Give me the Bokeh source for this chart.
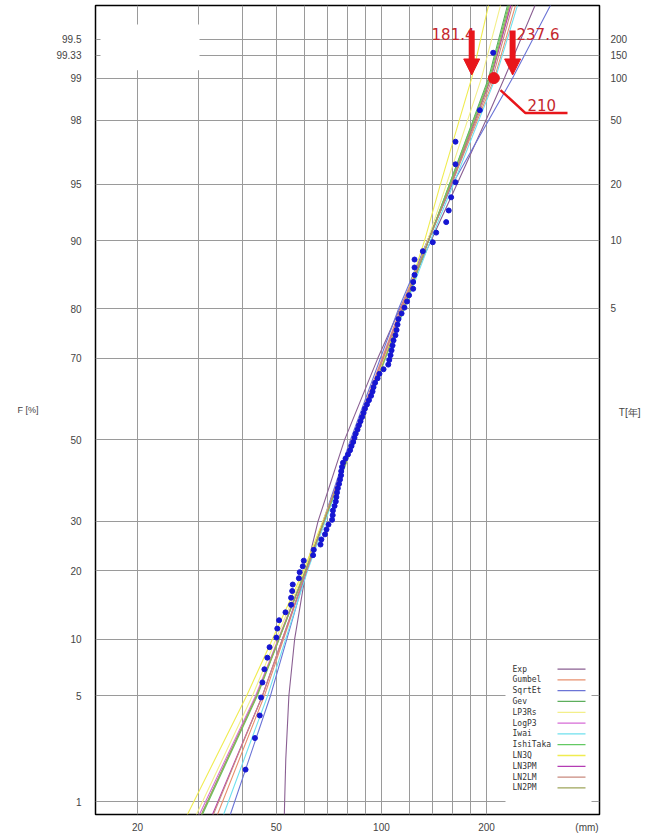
import math
from statistics import NormalDist
from bokeh.plotting import figure
from bokeh.models import (Range1d, FixedTicker, LinearAxis, Label, Arrow, NormalHead,
                          CustomJSTickFormatter)
from bokeh.embed import file_html
from bokeh.resources import INLINE
from bokeh.core.properties import value

# ---------------- data ----------------
f_ticks = [1, 5, 10, 20, 30, 50, 70, 80, 90, 95, 98, 99, 99.33, 99.5]
f_tick_labels = ["1", "5", "10", "20", "30", "50", "70", "80", "90", "95", "98", "99", "99.33", "99.5"]
t_ticks_f = [80, 90, 95, 98, 99, 99.33, 99.5]
t_tick_labels = ["5", "10", "20", "50", "100", "150", "200"]
t_axis_title = "T[年]"
f_axis_title = "F [%]"
x_ticks = [20, 50, 100, 200]
x_tick_labels = ["20", "50", "100", "200"]
x_unit_label = "(mm)"
x_grid = [20, 30, 40, 50, 60, 70, 80, 90, 100, 120, 140, 160, 180, 200]

obs_mm = [30.3, 40.8, 43.4, 44.8, 45.2, 45.6, 46.2, 47.1, 47.8, 50.0,
          50.3, 50.9, 53.1, 55.1, 55.1, 55.5, 55.7, 58.0, 58.3, 59.5,
          59.9, 63.7, 64.0, 66.9, 67.3, 68.9, 69.6, 70.5, 72.2, 72.5,
          72.6, 73.4, 74.0, 74.3, 74.6, 75.0, 75.6, 76.1, 76.6, 76.7,
          77.1, 77.6, 78.9, 80.2, 81.3, 82.1, 83.0, 83.7, 84.4, 85.4,
          86.2, 87.1, 88.0, 88.9, 89.7, 90.9, 92.1, 93.4, 94.3, 94.9,
          95.9, 97.5, 98.7, 101.4, 104.6, 105.3, 106.2, 106.9, 107.6, 108.3,
          109.7, 110.5, 111.2, 111.9, 114.2, 116.4, 118.4, 120.0, 123.3, 123.3,
          124.4, 124.4, 124.4, 131.4, 140.3, 143.5, 153.3, 155.9, 158.4, 163.0,
          163.0, 163.0, 191.4, 209.0]
obs_f = [0.64, 1.70, 2.76, 3.82, 4.88, 5.94, 7.01, 8.07, 9.13, 10.19,
         11.25, 12.31, 13.38, 14.44, 15.50, 16.56, 17.62, 18.68, 19.75, 20.81,
         21.87, 22.93, 23.99, 25.05, 26.11, 27.18, 28.24, 29.30, 30.36, 31.42,
         32.48, 33.55, 34.61, 35.67, 36.73, 37.79, 38.85, 39.92, 40.98, 42.04,
         43.10, 44.16, 45.22, 46.28, 47.35, 48.41, 49.47, 50.53, 51.59, 52.65,
         53.72, 54.78, 55.84, 56.90, 57.96, 59.02, 60.08, 61.15, 62.21, 63.27,
         64.33, 65.39, 66.45, 67.52, 68.58, 69.64, 70.70, 71.76, 72.82, 73.89,
         74.95, 76.01, 77.07, 78.13, 79.19, 80.25, 81.32, 82.38, 83.44, 84.50,
         85.56, 86.62, 87.69, 88.75, 89.81, 90.87, 91.93, 92.99, 94.06, 95.12,
         96.18, 97.24, 98.30, 99.36]

# fitted curves: value (mm) at each non-exceedance probability of curve_f
curve_f = [0.8, 5, 20, 50, 80, 90, 95, 99, 99.74]
gumbel_mm = [33.9, 46.2, 61.0, 82.1, 113.4, 135.5, 158.8, 210.8, 242.2]
sqrtet_mm = [36.9, 48.1, 61.0, 81.5, 111.9, 135.5, 159.8, 237.6, 305.1]
gev_mm = [30.5, 43.9, 60.6, 83.7, 115.7, 136.4, 156.7, 202.7, 229.7]
lp3rs_mm = [29.5, 42.7, 60.2, 84.3, 115.7, 135.5, 153.6, 193.5, 219.4]
logp3_mm = [30.1, 43.6, 60.6, 83.7, 115.7, 136.4, 157.7, 205.3, 234.3]
iwai_mm = [35.3, 47.2, 61.4, 83.7, 116.4, 138.2, 160.9, 212.2, 245.4]
ishitaka_mm = [30.7, 44.1, 60.6, 83.7, 115.7, 136.4, 156.7, 204.0, 231.3]
ln3q_mm = [27.8, 41.1, 59.8, 83.7, 114.9, 132.9, 147.6, 181.4, 202.7]
ln3pm_mm = [32.8, 45.6, 61.0, 82.6, 114.2, 136.4, 158.8, 206.0, 235.0]
ln2lm_mm = [33.0, 45.6, 61.0, 82.6, 114.2, 136.4, 158.8, 208.1, 237.5]
ln2pm_mm = [30.5, 43.9, 60.6, 83.7, 115.7, 136.4, 157.7, 205.3, 232.8]
exp_f = [0.8, 1, 2, 5, 10, 20, 30, 50, 70, 80, 90, 95, 98, 99, 99.74]
exp_mm = [52.7, 52.8, 53.2, 54.3, 56.4, 60.8, 65.8, 78.4, 97.6, 112.8, 138.8, 164.7, 199.1, 225.1, 275.6]

legend_names = ["Exp", "Gumbel", "SqrtEt", "Gev", "LP3Rs", "LogP3", "Iwai", "IshiTaka",
                "LN3Q", "LN3PM", "LN2LM", "LN2PM"]
legend_colors = ["#8a5f92", "#e8906e", "#6b74d6", "#5cae5c", "#f3ef8a", "#d66bd6", "#6fe0ee",
                 "#63c963", "#f0ec50", "#b43cb4", "#c98a7e", "#9ea55a"]

ann_values = [181.4, 237.6]      # 99 % quantiles marked with arrows
ann_f = 99.0
ann_median = 210                 # marked point

# ---------------- helpers ----------------
ND = NormalDist()


def z(f):
    return ND.inv_cdf(f / 100.0)


# page-pixel -> data helpers (for layout of annotations only)
def mx(px):
    return 20.0 * 10 ** ((px - 137.0) / 349.0)


def zy(py):
    return (441.0 - py) / 156.1


W, H = 643, 835
FL, FR, FT, FB = 95, 599, 5, 817   # frame edges in page pixels
p = figure(width=W, height=H, x_axis_type="log",
           x_range=Range1d(mx(FL), mx(FR)), y_range=Range1d(zy(FB), zy(FT)),
           output_backend="svg", toolbar_location=None,
           min_border_left=FL, min_border_right=W - FR, min_border_top=FT, min_border_bottom=H - FB)
p.background_fill_color = "white"
p.border_fill_color = "white"
p.outline_line_color = "black"
p.outline_line_width = 1.5

LABEL_FONT = "Liberation Sans"
LABEL_COLOR = "#444444"
NB = "\u00a0"

LOOKUP = """
let best = ''; let d = 1e9;
for (let i = 0; i < zs.length; i++) { const e = Math.abs(zs[i] - tick); if (e < d) { d = e; best = labs[i]; } }
return best;
"""

# left axis (F %), titled with a horizontal axis label
zt = [z(f) for f in f_ticks]
ya = p.yaxis[0]
ya.ticker = FixedTicker(ticks=zt)
ya.formatter = CustomJSTickFormatter(args=dict(zs=zt, labs=f_tick_labels), code=LOOKUP)
ya.axis_label = f_axis_title
if "axis_label_orientation" in ya.properties():
    ya.axis_label_orientation = "horizontal"

# right axis (return period); its title is written at mid height as an extra label
zt2 = [z(f) for f in t_ticks_f]
t_title_pos = zy(414)
ra = LinearAxis(ticker=FixedTicker(ticks=zt2 + [t_title_pos]))
ra.formatter = CustomJSTickFormatter(
    args=dict(zs=zt2 + [t_title_pos], labs=t_tick_labels + [NB * 3 + t_axis_title]), code=LOOKUP)
p.add_layout(ra, "right")

# bottom axis; the unit "(mm)" sits at the right end of the axis (kept inside the frame width)
xa = p.xaxis[0]
unit_pos = mx(FR - 12.5)
xa.ticker = FixedTicker(ticks=x_ticks + [unit_pos])
xa.formatter = CustomJSTickFormatter(
    args=dict(zs=[math.log10(v) for v in x_ticks + [unit_pos]],
              labs=x_tick_labels + [x_unit_label]),
    code="""
const t = Math.log10(tick);
let best = ''; let d = 1e9;
for (let i = 0; i < zs.length; i++) { const e = Math.abs(zs[i] - t); if (e < d) { d = e; best = labs[i]; } }
return best;
""")

for ax in [ya, ra, xa]:
    ax.axis_line_color = None
    ax.major_tick_line_color = None
    ax.minor_tick_line_color = None
    ax.major_label_text_font = LABEL_FONT
    ax.major_label_text_font_size = "10px"
    ax.major_label_text_color = LABEL_COLOR
    ax.axis_label_text_font = LABEL_FONT
    ax.axis_label_text_font_size = "9px"
    ax.axis_label_text_font_style = "normal"
    ax.axis_label_text_color = LABEL_COLOR
ya.major_label_standoff = 8
ya.axis_label_standoff = 15
ra.major_label_standoff = 5
xa.major_label_standoff = 1

p.xgrid.ticker = FixedTicker(ticks=x_grid)
p.ygrid.ticker = FixedTicker(ticks=zt)
p.xgrid.grid_line_color = "#9a9a9a"
p.ygrid.grid_line_color = "#9a9a9a"
p.xgrid.grid_line_width = 1
p.ygrid.grid_line_width = 1

# blank box at top-left (as in the reference)
p.quad(left=mx(100), right=mx(199), top=zy(24), bottom=zy(70), fill_color="white", line_color=None)

# fitted curves
curve_data = {
    "Gumbel": gumbel_mm, "SqrtEt": sqrtet_mm, "Gev": gev_mm, "LP3Rs": lp3rs_mm,
    "LogP3": logp3_mm, "Iwai": iwai_mm, "IshiTaka": ishitaka_mm, "LN3Q": ln3q_mm,
    "LN3PM": ln3pm_mm, "LN2LM": ln2lm_mm, "LN2PM": ln2pm_mm,
}
zc = [z(f) for f in curve_f]
for name, col in zip(legend_names, legend_colors):
    if name == "Exp":
        p.line(exp_mm, [z(f) for f in exp_f], line_color=col, line_width=1.1)
    else:
        p.line(curve_data[name], zc, line_color=col, line_width=1.1)

# observations
p.scatter(obs_mm, [z(f) for f in obs_f], size=5, color="#1616d2")

# legend (text left, line sample right)
p.quad(left=mx(505), right=mx(591), top=zy(658), bottom=zy(812), fill_color="white", line_color=None)
for i, (name, col) in enumerate(zip(legend_names, legend_colors)):
    yy = zy(671 + i * 10.85)
    p.text(x=[mx(512)], y=[yy], text=[name], text_font=value("DejaVu Sans Mono"),
           text_font_size="8px", text_baseline="middle", text_align="left", text_color="#333333")
    p.line([mx(557), mx(585)], [yy, yy], line_color=col, line_width=1.3)

# red annotations
RED = "#e8161b"
RED_TXT = "#c4272d"
p.add_layout(Label(x=mx(474), y=zy(34), text=f"{ann_values[0]}", text_align="right",
                   text_baseline="middle", text_font="DejaVu Sans", text_font_size="15px",
                   text_color=RED_TXT))
p.add_layout(Label(x=mx(516), y=zy(34), text=f"{ann_values[1]}", text_align="left",
                   text_baseline="middle", text_font="DejaVu Sans", text_font_size="15px",
                   text_color=RED_TXT))
for v in ann_values:
    p.add_layout(Arrow(end=NormalHead(size=16, fill_color=RED, line_color=RED),
                       x_start=v, x_end=v, y_start=zy(30), y_end=z(ann_f) + 0.02,
                       line_color=RED, line_width=6))
p.line([mx(500), mx(525), mx(567)], [zy(90), zy(113), zy(113)], line_color=RED, line_width=2.5)
p.scatter([ann_median], [z(ann_f)], size=11, color=RED)
p.add_layout(Label(x=mx(527), y=zy(105), text=str(ann_median), text_align="left",
                   text_baseline="middle", text_font="DejaVu Sans", text_font_size="15px",
                   text_color=RED_TXT))

open("out.html", "w").write(file_html(p, INLINE))
